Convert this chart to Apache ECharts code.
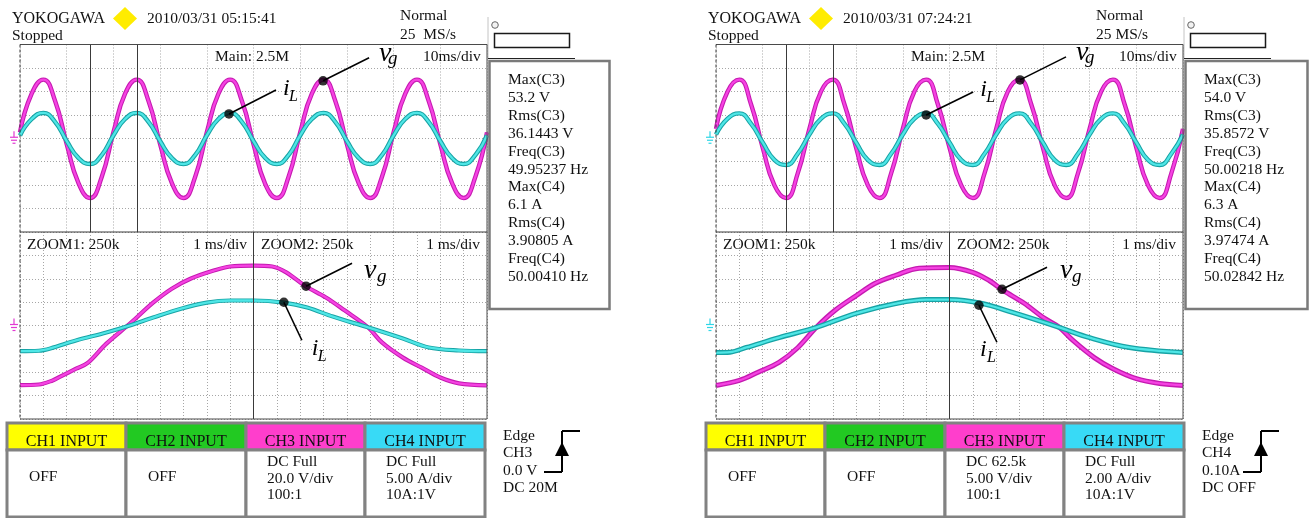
<!DOCTYPE html>
<html>
<head>
<meta charset="utf-8">
<script src="https://cdn.jsdelivr.net/npm/echarts@6/dist/echarts.min.js"></script>
<style>
  html, body { margin: 0; padding: 0; background: #fff; }
  #c { width: 1311px; height: 518px; }
</style>
</head>
<body>
<div id="c"></div>
<script>
// ---------------- acquisition data ----------------
// Main record, 10 ms/div: sample instants in ms
const mainTime = [0, 2.5, 5, 7.5, 10, 12.5, 15, 17.5, 20, 22.5, 25, 27.5, 30, 32.5, 35, 37.5,
  40, 42.5, 45, 47.5, 50, 52.5, 55, 57.5, 60, 62.5, 65, 67.5, 70, 72.5, 75, 77.5,
  80, 82.5, 85, 87.5, 90, 92.5, 95, 97.5, 100];

// Capture 1 (05:15:41): CH3 grid voltage [V], CH4 inductor current [A]
const mainVgA = [5, 38, 50, 32, -5, -38, -51, -33, 5, 38, 50, 32, -5, -38, -51, -33,
  5, 38, 50, 32, -5, -39, -51, -33, 5, 38, 50, 32, -5, -38, -51, -33,
  5, 38, 50, 32, -5, -38, -51, -33, 5];
const mainIlA = [0.6, 4.1, 5.4, 3.5, -0.6, -4.2, -5.5, -3.6, 0.6, 4.1, 5.4, 3.5, -0.6, -4.2, -5.5, -3.6,
  0.6, 4.1, 5.4, 3.5, -0.6, -4.2, -5.5, -3.6, 0.6, 4.1, 5.4, 3.5, -0.6, -4.2, -5.5, -3.6,
  0.6, 4.1, 5.4, 3.5, -0.6, -4.2, -5.5, -3.6, 0.6];

// Capture 2 (07:24:21)
const mainVgB = [8, 40, 50, 29, -8, -40, -51, -30, 8, 40, 50, 29, -8, -40, -51, -30,
  8, 40, 50, 29, -8, -40, -51, -30, 8, 40, 50, 29, -8, -40, -51, -30,
  8, 40, 50, 29, -8, -40, -51, -30, 8];
const mainIlB = [0.8, 4.2, 5.3, 3.1, -0.9, -4.6, -5.7, -3.3, 0.8, 4.2, 5.3, 3.1, -0.9, -4.6, -5.7, -3.3,
  0.8, 4.2, 5.3, 3.1, -0.9, -4.6, -5.7, -3.3, 0.8, 4.2, 5.3, 3.1, -0.9, -4.6, -5.7, -3.3,
  0.8, 4.2, 5.3, 3.1, -0.9, -4.6, -5.7, -3.3, 0.8];

// ZOOM1 + ZOOM2 windows, 1 ms/div (20 ms across)
const zoomVgTimeA = [0, 0.8, 1.4, 1.7, 2.4, 2.9, 3.7, 4.7, 5.7, 6.5, 7.3, 8.3, 9.0, 10.0, 10.8,
  11.4, 12.2, 13.1, 13.9, 14.9, 15.5, 16.4, 17.2, 18.0, 18.8, 20];
const zoomVgA = [-51, -50.5, -47, -44, -37, -32, -15.5, 1.5, 19.5, 31.5, 40, 47, 50.5, 51.3, 50.5,
  45.5, 34, 24, 13, -1.5, -14.5, -27.5, -36, -44.5, -49.5, -51.3];
const zoomIlTimeA = [0, 0.8, 1.3, 2.4, 3.7, 4.7, 5.7, 6.9, 8.0, 9.0, 10.0, 11.3, 12.3, 13.4, 14.9,
  16.4, 17.5, 18.8, 20];
const zoomIlA = [-5.5, -5.4, -4.9, -3.2, -1.5, 0, 1.7, 3.6, 4.9, 5.35, 5.35, 4.9, 3.85, 1.9, -0.4,
  -2.8, -4.7, -5.35, -5.5];

const zoomVgTimeB = [0, 1.0, 1.8, 2.7, 3.5, 4.3, 5.1, 6.0, 6.8, 7.7, 8.7, 10.0, 11.0, 11.7, 12.3,
  13.2, 14.0, 14.7, 15.3, 16.2, 17.0, 18.0, 19.0, 20];
const zoomVgB = [-51.3, -47, -40, -31.5, -19, -1.5, 13, 25.5, 36, 43, 49, 49.6, 45.5, 38.5, 30,
  19, 7, -1.5, -13, -27.5, -37, -45.5, -49.6, -51.3];
const zoomIlTimeB = [0, 0.6, 1.3, 2.7, 4.3, 6.0, 7.7, 9.0, 10.0, 11.4, 12.7, 14.7, 16.0, 17.7, 20];
const zoomIlB = [-5.8, -5.7, -4.7, -2.6, -0.4, 2.6, 4.7, 5.55, 5.55, 4.7, 2.8, -0.4, -2.6, -4.7, -5.8];

// Zoom window positions on the main record and the ZOOM1/ZOOM2 divider [ms]
const zoomCursors = [15, 25];
const zoomDivider = [10];

// Annotated points [time, value] on each capture: main vg, main iL, zoom vg, zoom iL
const calloutPointsA = [[64.9, 49.0], [44.75, 5.19], [12.25, 33.6], [11.3, 4.97]];
const calloutPointsB = [[65.1, 49.8], [45.0, 4.97], [12.25, 31.0], [11.26, 4.33]];

// ---------------- screen texts ----------------
const brand = 'YOKOGAWA';
const runState = 'Stopped';
const trigMode = 'Normal';
const stampA = '2010/03/31 05:15:41';
const stampB = '2010/03/31 07:24:21';
const rateA = '25  MS/s';
const rateB = '25 MS/s';
const mainTitle = 'Main: 2.5M';
const mainDiv = '10ms/div';
const zoomTitles = ['ZOOM1: 250k', 'ZOOM2: 250k'];
const zoomDiv = '1 ms/div';
const measureA = ['Max(C3)', '53.2 V', 'Rms(C3)', '36.1443 V', 'Freq(C3)', '49.95237 Hz',
  'Max(C4)', '6.1 A', 'Rms(C4)', '3.90805 A', 'Freq(C4)', '50.00410 Hz'];
const measureB = ['Max(C3)', '54.0 V', 'Rms(C3)', '35.8572 V', 'Freq(C3)', '50.00218 Hz',
  'Max(C4)', '6.3 A', 'Rms(C4)', '3.97474 A', 'Freq(C4)', '50.02842 Hz'];
const inputHeads = ['CH1 INPUT', 'CH2 INPUT', 'CH3 INPUT', 'CH4 INPUT'];
const inputsA = [['OFF'], ['OFF'], ['DC Full', '20.0 V/div', '100:1'], ['DC Full', '5.00 A/div', '10A:1V']];
const inputsB = [['OFF'], ['OFF'], ['DC 62.5k', '5.00 V/div', '100:1'], ['DC Full', '2.00 A/div', '10A:1V']];
const triggerA = ['Edge', 'CH3', '0.0 V', 'DC 20M'];
const triggerB = ['Edge', 'CH4', '0.10A', 'DC OFF'];
const calloutNames = [['v', 'g'], ['i', 'L'], ['v', 'g'], ['i', 'L']];

// ---------------- layout & styles ----------------
const PANEL_SHIFT = 696;
const SCREEN = { x: 20, y: 44.5, w: 467, mainH: 187.5, zoomH: 187 };
const SERIF = '"Liberation Serif", "Times New Roman", serif';
const FS = 15.5;            // screen text size
const INK = '#111';
const TRACE = {
  vg: { edge: '#c41ab0', core: '#f542e2' },
  il: { edge: '#17a3a5', core: '#4fe6e6' }
};
const HEAD_FILL = ['#ffff00', '#22c922', '#ff3ecc', '#38daf6'];
const COL_X = [7, 126, 246, 365, 485];
// leader end, main letter and subscript offsets from each annotated point [px]
const CALLOUT_LAYOUT = [
  [
    { lead: [46, -23], main: [56, -27.5], sub: [65, -21.5] },
    { lead: [47, -24], main: [54, -25.2], sub: [60, -17.4] },
    { lead: [46, -23], main: [58, -15.5], sub: [71, -9.5] },
    { lead: [18, 38], main: [28, 46.5], sub: [34, 54.6] }
  ],
  [
    { lead: [46, -23], main: [56, -27.5], sub: [65, -21.5] },
    { lead: [47, -23], main: [54, -25.2], sub: [60, -17.4] },
    { lead: [45, -22], main: [58, -18.5], sub: [70, -12.5] },
    { lead: [18, 37], main: [1, 44.8], sub: [8, 52.6] }
  ]
];

const panels = [
  { stamp: stampA, rate: rateA, measure: measureA, inputs: inputsA, trigger: triggerA,
    groundColor: '#e23ad2', mainVg: mainVgA, mainIl: mainIlA, lowerDx: 0, zoomEdge: 4.2,
    zVgT: zoomVgTimeA, zVg: zoomVgA, zIlT: zoomIlTimeA, zIl: zoomIlA, points: calloutPointsA, boxW: 120 },
  { stamp: stampB, rate: rateB, measure: measureB, inputs: inputsB, trigger: triggerB,
    groundColor: '#2fd6e6', mainVg: mainVgB, mainIl: mainIlB, lowerDx: 3, zoomEdge: 5.0,
    zVgT: zoomVgTimeB, zVg: zoomVgB, zIlT: zoomIlTimeB, zIl: zoomIlB, points: calloutPointsB, boxW: 122 }
];

const pairs = (xs, ys) => xs.map((x, i) => [x, ys[i]]);

function txt(x, y, s, size, o) {
  o = o || {};
  const align = o.align || 'left';
  return {
    type: 'text', x: x, y: y, silent: true, z: 50,
    style: {
      text: s, font: (o.italic ? 'italic ' : '') + size + 'px ' + SERIF, fill: o.fill || INK,
      textAlign: align, align: align, textVerticalAlign: 'middle', verticalAlign: 'middle'
    }
  };
}
function seg(x1, y1, x2, y2, stroke, w, dash) {
  return { type: 'line', silent: true, z: 40, shape: { x1: x1, y1: y1, x2: x2, y2: y2 },
    style: { stroke: stroke, lineWidth: w, lineDash: dash || null } };
}
function box(x, y, w, h, fill, stroke, lw, z) {
  return { type: 'rect', silent: true, z: z || 30, shape: { x: x, y: y, width: w, height: h },
    style: { fill: fill, stroke: stroke || null, lineWidth: lw || 0 } };
}

// ---------------- chart option ----------------
const grids = [], xAxes = [], yAxes = [], series = [];
const dotted = { show: true, lineStyle: { color: '#a6a6a6', width: 1, type: [1, 2] } };
const hiddenAxis = { axisLine: { show: false }, axisTick: { show: false }, axisLabel: { show: false } };

function traceSeries(g, yIdx, data, col, smooth, edgeW, marks) {
  const common = { type: 'line', xAxisIndex: g, yAxisIndex: yIdx, data: data, smooth: smooth,
    symbol: 'none', silent: true, animation: false };
  const out = [
    Object.assign({}, common, { lineStyle: { color: col.edge, width: edgeW }, z: 3 }),
    Object.assign({}, common, { lineStyle: { color: col.core, width: 2.3 }, z: 3 })
  ];
  if (marks) {
    out[1].markLine = { symbol: 'none', silent: true, animation: false, label: { show: false },
      lineStyle: { color: '#3a3a3a', width: 1, type: 'solid' },
      data: marks.map(v => ({ xAxis: v })) };
  }
  return out;
}

panels.forEach((p, i) => {
  const ox = i * PANEL_SHIFT;
  const gMain = 2 * i, gZoom = 2 * i + 1;
  grids.push({ left: ox + SCREEN.x, top: SCREEN.y, width: SCREEN.w, height: SCREEN.mainH });
  grids.push({ left: ox + SCREEN.x, top: SCREEN.y + SCREEN.mainH, width: SCREEN.w, height: SCREEN.zoomH });
  xAxes.push(Object.assign({ gridIndex: gMain, type: 'value', min: 0, max: 100, interval: 10, splitLine: dotted }, hiddenAxis));
  xAxes.push(Object.assign({ gridIndex: gZoom, type: 'value', min: 0, max: 20, interval: 1, splitLine: dotted }, hiddenAxis));
  [gMain, gZoom].forEach(g => {
    // volts (20 V/div) and amps (5 A/div) share the 8-division screen
    yAxes.push(Object.assign({ gridIndex: g, type: 'value', min: -80, max: 80, interval: 20, splitLine: dotted }, hiddenAxis));
    yAxes.push({ gridIndex: g, type: 'value', min: -20, max: 20, interval: 5, show: false, splitLine: { show: false } });
  });
  const yV = g => 2 * g, yA = g => 2 * g + 1;

  series.push(...traceSeries(gMain, yV(gMain), pairs(mainTime, p.mainVg), TRACE.vg, 0.5, 4.4));
  series.push(...traceSeries(gMain, yA(gMain), pairs(mainTime, p.mainIl), TRACE.il, 0.5, 4.4, zoomCursors));
  series.push(...traceSeries(gZoom, yV(gZoom), pairs(p.zVgT, p.zVg), TRACE.vg, 0.35, p.zoomEdge));
  series.push(...traceSeries(gZoom, yA(gZoom), pairs(p.zIlT, p.zIl), TRACE.il, 0.35, p.zoomEdge, zoomDivider));

  // annotated points
  const where = [[gMain, yV(gMain)], [gMain, yA(gMain)], [gZoom, yV(gZoom)], [gZoom, yA(gZoom)]];
  p.points.forEach((pt, k) => {
    series.push({ type: 'scatter', xAxisIndex: where[k][0], yAxisIndex: where[k][1], data: [pt],
      symbol: 'circle', symbolSize: 9.5, itemStyle: { color: '#000' }, silent: true, animation: false, z: 20 });
  });
  p.where = where;
});

const chart = echarts.init(document.getElementById('c'), null, { renderer: 'canvas', width: 1311, height: 518 });
chart.setOption({
  animation: false,
  backgroundColor: '#ffffff',
  grid: grids, xAxis: xAxes, yAxis: yAxes, series: series
});

// ---------------- screen furniture ----------------
const els = [];
panels.forEach((p, i) => {
  const ox = i * PANEL_SHIFT;
  const lx = ox + p.lowerDx;
  const L = ox + SCREEN.x, R = L + SCREEN.w, T = SCREEN.y, M = T + SCREEN.mainH, B = M + SCREEN.zoomH;

  // header
  els.push(txt(ox + 12, 19, brand, 16));
  els.push({ type: 'polygon', silent: true, z: 40,
    shape: { points: [[ox + 125, 7], [ox + 137, 18.5], [ox + 125, 30], [ox + 113, 18.5]] },
    style: { fill: '#ffec00' } });
  els.push(txt(ox + 147, 19, p.stamp, FS));
  els.push(txt(ox + 12, 36, runState, FS));
  els.push(txt(ox + 400, 16, trigMode, FS));
  els.push(txt(ox + 400, 35, p.rate, FS));

  // small status area top right
  els.push(seg(ox + 488, 17, ox + 488, 59, '#c4c4c4', 1));
  els.push(seg(ox + 488, 58.5, ox + 575, 58.5, '#222', 1));
  els.push({ type: 'circle', silent: true, z: 40, shape: { cx: ox + 495, cy: 25, r: 3.3 },
    style: { fill: '#f2f2f2', stroke: '#666', lineWidth: 1 } });
  els.push(box(ox + 494.5, 33.5, 75, 14, '#fff', '#1a1a1a', 1.5, 40));

  // measurement box
  els.push(box(ox + 489.5, 61, p.boxW, 248, '#fff', '#7a7a7a', 2.5, 30));
  p.measure.forEach((s, k) => els.push(txt(ox + 508, 80 + k * 17.9, s, FS)));

  // screen frame
  els.push(seg(L, T, R, T, '#4a4a4a', 1));
  els.push(seg(R, T, R, B, '#4a4a4a', 1));
  els.push(seg(L, B, R, B, '#4a4a4a', 1));
  els.push(seg(L, M, R, M, '#3a3a3a', 1));
  els.push(seg(L, T, L, B, '#3a3a3a', 1, [3, 2]));

  // window titles
  els.push(txt(ox + 215, 57, mainTitle, FS));
  els.push(txt(ox + 423, 57, mainDiv, FS));
  els.push(txt(ox + 27, 245, zoomTitles[0], FS));
  els.push(txt(ox + 247, 245, zoomDiv, FS, { align: 'right' }));
  els.push(txt(ox + 261, 245, zoomTitles[1], FS));
  els.push(txt(ox + 480, 245, zoomDiv, FS, { align: 'right' }));

  // input table
  for (let k = 0; k < 4; k++) {
    const x0 = lx + COL_X[k], w = COL_X[k + 1] - COL_X[k];
    els.push(box(x0, 423, w, 27, HEAD_FILL[k], '#828282', 3, 30));
    els.push(box(x0, 450, w, 67, '#fff', '#828282', 3, 30));
    els.push(txt(x0 + w / 2, 441.5, inputHeads[k], 16, { align: 'center' }));
    const lines = p.inputs[k];
    if (lines.length === 1) {
      els.push(txt(x0 + 22, 477, lines[0], FS));
    } else {
      lines.forEach((s, j) => els.push(txt(x0 + 21, 462 + j * 16.5, s, FS)));
    }
  }

  // trigger block
  p.trigger.forEach((s, j) => els.push(txt(lx + 503, 436 + j * 17.4, s, FS)));
  els.push(seg(lx + 544, 472, lx + 562, 472, '#000', 2));
  els.push(seg(lx + 562, 472, lx + 562, 431, '#000', 2));
  els.push(seg(lx + 562, 431, lx + 580, 431, '#000', 2));
  els.push({ type: 'polygon', silent: true, z: 41,
    shape: { points: [[lx + 562, 442], [lx + 555, 456], [lx + 569, 456]] }, style: { fill: '#000' } });

  // ground markers at the zero level of both windows
  [p.where[0], p.where[2]].forEach(w => {
    const zy = chart.convertToPixel({ xAxisIndex: w[0], yAxisIndex: w[1] }, [0, 0])[1];
    const c = p.groundColor;
    els.push(seg(ox + 14, zy - 7, ox + 14, zy - 1, c, 1.2));
    els.push(seg(ox + 10, zy - 1, ox + 18, zy - 1, c, 1.2));
    els.push(seg(ox + 11, zy + 2, ox + 17, zy + 2, c, 1.2));
    els.push(seg(ox + 12.5, zy + 5, ox + 15.5, zy + 5, c, 1.2));
  });

  // callouts: leader line and italic symbol with subscript
  p.points.forEach((pt, k) => {
    const w = p.where[k];
    const xy = chart.convertToPixel({ xAxisIndex: w[0], yAxisIndex: w[1] }, pt);
    const lay = CALLOUT_LAYOUT[i][k];
    const isV = calloutNames[k][0] === 'v';
    els.push(seg(xy[0], xy[1], xy[0] + lay.lead[0], xy[1] + lay.lead[1], '#000', 1.6));
    els.push(txt(xy[0] + lay.main[0], xy[1] + lay.main[1], calloutNames[k][0], isV ? 28 : 24, { italic: true, fill: '#000' }));
    els.push(txt(xy[0] + lay.sub[0], xy[1] + lay.sub[1], calloutNames[k][1], isV ? 19 : 16, { italic: true, fill: '#000' }));
  });
});

chart.setOption({ graphic: { elements: els } });
</script>
</body>
</html>
